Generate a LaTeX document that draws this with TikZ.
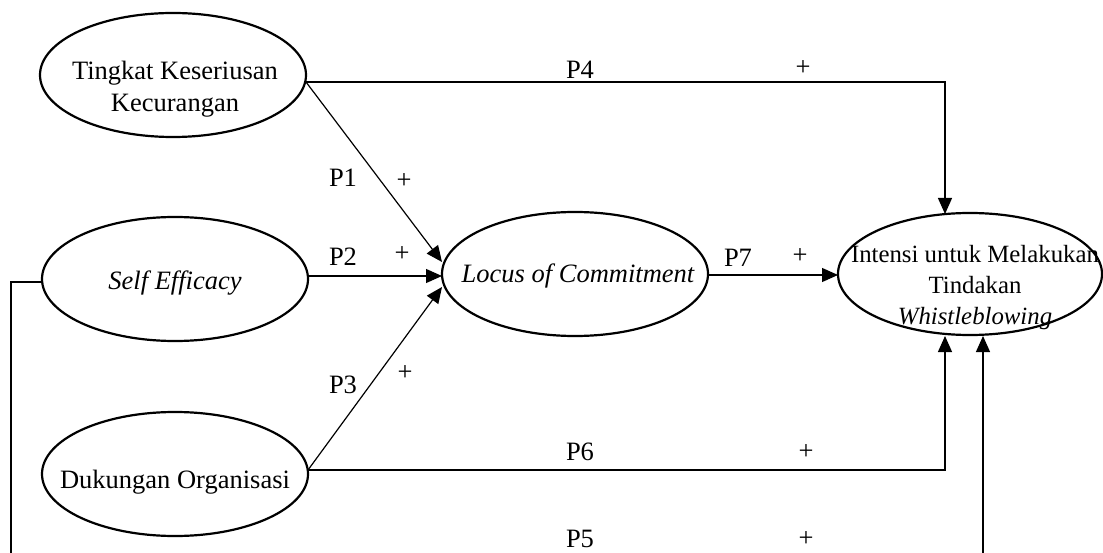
\documentclass[tikz,border=0pt]{standalone}
\usepackage{fontspec}
\setmainfont{Liberation Serif}
\usetikzlibrary{shapes.geometric,arrows.meta}
\begin{document}
\begin{tikzpicture}[x=1pt,y=-1pt,
  ell/.style={draw,ellipse,line width=2.2pt,minimum width=266pt,minimum height=124pt,inner sep=0pt},
  txt/.style={align=center,inner sep=0pt,font=\fontsize{26.5}{31.5}\selectfont},
  lbl/.style={inner sep=0pt,font=\fontsize{26.5}{31.5}\selectfont},
  conn/.style={line width=1.2pt},
  arr/.style={conn,-{Triangle[length=16pt,width=14pt]}}]
\useasboundingbox (0,0) rectangle (1103,553);
% ellipses
\node[ell] (t) at (173,75) {};
\node[ell] (s) at (175,279) {};
\node[ell] (d) at (175,474) {};
\node[ell] (l) at (575,274) {};
\node[ell,minimum width=264pt,minimum height=122pt] (i) at (970,274) {};
% texts
\node[txt] (tt) at (175,89) {Tingkat Keseriusan\\Kecurangan};
\node[txt] (st) at (175,283) {\itshape Self Efficacy};
\node[txt] (dt) at (175,482) {Dukungan Organisasi};
\node[txt] (lt) at (578,276) {\itshape Locus of Commitment};
\node[txt,font=\fontsize{24.8}{31}\selectfont] (it) at (975,288) {Intensi untuk Melakukan\\Tindakan\\\itshape Whistleblowing};
% connection points
\coordinate (t1) at (306,82);
\coordinate (s1) at (308,276);
\coordinate (s0) at (42,282);
\coordinate (d1) at (308,470);
\coordinate (l1) at (442,262);
\coordinate (l2) at (442,276);
\coordinate (l3) at (442,287);
\coordinate (l4) at (708,275);
\coordinate (i1) at (838,275);
\coordinate (i4) at (945,214);
\coordinate (i6) at (945,336);
\coordinate (i5) at (983,336);
\coordinate (b1) at (11,553);
\coordinate (b2) at (983,553);
% connectors
\draw[arr] (t1) -| (i4);
\draw[arr] (t1) -- (l1);
\draw[arr] (s1) -- (l2);
\draw[arr] (d1) -- (l3);
\draw[arr] (l4) -- (i1);
\draw[arr] (d1) -| (i6);
\draw[conn] (s0) -| (b1);
\draw[arr] (b2) -- (i5);
% labels
\node[lbl] (p4) at (580,70) {P4};
\node[lbl] (q4) at (803,68) {+};
\node[lbl] (p1) at (343,178) {P1};
\node[lbl] (q1) at (404,181) {+};
\node[lbl] (p2) at (343,257) {P2};
\node[lbl] (q2) at (402,254) {+};
\node[lbl] (p3) at (343,385) {P3};
\node[lbl] (q3) at (405,373) {+};
\node[lbl] (p7) at (738,258) {P7};
\node[lbl] (q7) at (800,256) {+};
\node[lbl] (p6) at (580,452) {P6};
\node[lbl] (q6) at (806,452) {+};
\node[lbl] (p5) at (580,539) {P5};
\node[lbl] (q5) at (806,539) {+};
\end{tikzpicture}
\end{document}
